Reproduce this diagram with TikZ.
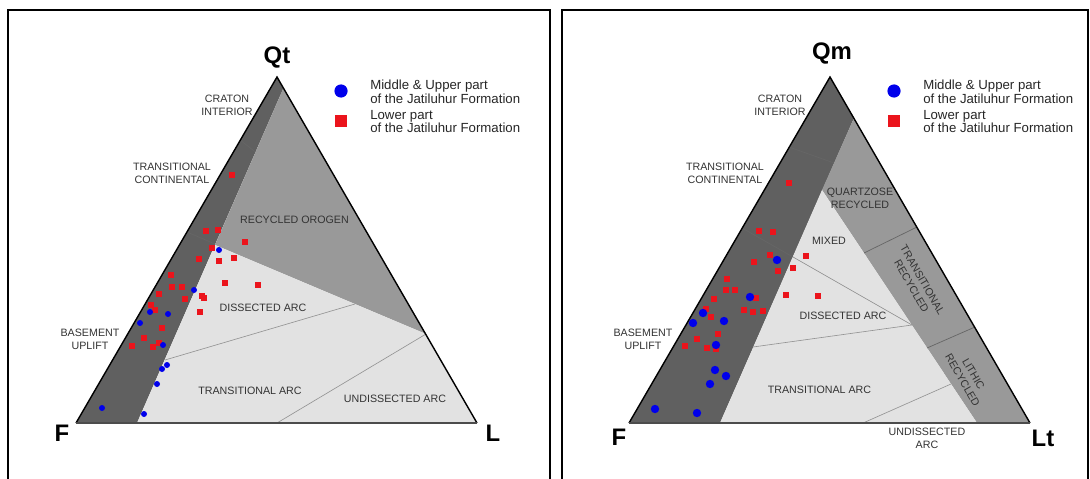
\documentclass[tikz,border=0pt]{standalone}
\usepackage{fontspec}
\setmainfont{Liberation Sans}
\usepackage{tikz}
\usetikzlibrary{positioning, calc}

\definecolor{bandgray}{RGB}{96,96,96}
\definecolor{recgray}{RGB}{153,153,153}
\definecolor{arcgray}{RGB}{226,226,226}
\definecolor{ptred}{RGB}{235,20,28}
\definecolor{ptblue}{RGB}{0,0,235}

\begin{document}
\begin{tikzpicture}[
    x=0.025cm, y=-0.025cm,
    frame/.style={draw=black, line width=0.9pt},
    edge/.style={draw=black, line width=1pt},
    baseline/.style={draw=black!70, line width=1.2pt},
    divide/.style={draw=gray!85, line width=0.45pt},
    bandline/.style={draw=black!60, line width=0.5pt},
    field/.style={font=\fontsize{7.6}{9}\selectfont, text=black!80, align=center, inner sep=0pt},
    corner/.style={font=\fontsize{17}{17}\selectfont\bfseries, inner sep=0pt},
    legtext/.style={font=\fontsize{9.4}{7.9}\selectfont, text=black!85, align=left, anchor=west, inner sep=0pt},
    redsq/.style={rectangle, fill=ptred, minimum size=0.14cm, inner sep=0pt},
    bluedot/.style={circle, fill=ptblue, minimum size=0.15cm, inner sep=0pt},
    bigdot/.style={bluedot, minimum size=0.21cm}
]
    \useasboundingbox (0,0) rectangle (1090,479);

    % Panel frames
    \draw[frame] (8,479) -- (8,10) -- (550,10) -- (550,479);
    \draw[frame] (562,479) -- (562,10) -- (1088,10) -- (1088,479);

    % Left diagram: Qt-F-L
    \coordinate (qt) at (277,77);
    \coordinate (fa) at (76,423);
    \coordinate (la) at (477,423);
    \fill[bandgray] (qt) -- (283.5,88) -- (137,423) -- (fa) -- cycle;
    \fill[recgray] (283.5,88) -- (426,334) -- (215,245) -- cycle;
    \fill[arcgray] (215,245) -- (426,334) -- (la) -- (137,423) -- cycle;
    \draw[bandline] (240,140) -- (255.5,152);
    \draw[bandline] (187,232) -- (215,244);
    \draw[divide] (165,360) -- (355,304);
    \draw[divide] (426,334) -- (277,423);
    \draw[edge] (fa) -- (qt) -- (la);
    \draw[baseline] (fa) -- (la);

    \node[corner] (qtlab) at (277,57.5) {Qt};
    \node[corner] (flab) at (62,433) {F};
    \node[corner] (llab) at (493,433) {L};

    \node[field] (craton) at (227,105) {CRATON\\INTERIOR};
    \node[field] (transcont) at (172,173.5) {TRANSITIONAL\\CONTINENTAL};
    \node[field] (recorogen) at (294.5,220) {RECYCLED OROGEN};
    \node[field] (disarc) at (263,308) {DISSECTED ARC};
    \node[field] (transarc) at (250,391) {TRANSITIONAL ARC};
    \node[field] (undisarc) at (395,399) {UNDISSECTED ARC};
    \node[field] (basement) at (90,339) {BASEMENT\\UPLIFT};

    % Left samples
    \foreach \x/\y in {232/175, 206/231, 218/230, 245/242, 212/248, 199/259, 219/261, 234/258, 225/283, 258/285, 171/275, 172/287, 182/287, 159/294, 185/299, 202/296, 204/298, 151/305, 155/310, 200/312, 162/328, 144/338, 132/346, 153/347, 159/343}
        \node[redsq] at (\x,\y) {};
    \foreach \x/\y in {219/250, 194/290, 150/312, 168/314, 140/323, 163/345, 167/365, 162/369, 157/384, 102/408, 144/414}
        \node[bluedot] at (\x,\y) {};

    % Left legend
    \node[bluedot, minimum size=0.33cm] (keyblue) at (341,91) {};
    \node[legtext] (keybluetext) at (370,91.5) {Middle \& Upper part\\of the Jatiluhur Formation};
    \node[redsq, minimum size=0.3cm] (keyred) at (341,121) {};
    \node[legtext] (keyredtext) at (370,121.5) {Lower part\\of the Jatiluhur Formation};

    % Right diagram: Qm-F-Lt
    \coordinate (qm) at (830,77);
    \coordinate (fb) at (629,423);
    \coordinate (lt) at (1030,423);
    \fill[bandgray] (qm) -- (854,118) -- (720,423) -- (fb) -- cycle;
    \fill[recgray] (854,118) -- (lt) -- (977,423) -- (822,190) -- cycle;
    \fill[arcgray] (822,190) -- (977,423) -- (720,423) -- cycle;
    \draw[bandline] (789,147) -- (834,163);
    \draw[bandline] (742,228) -- (793,257);
    \draw[bandline] (864,253) -- (917,227);
    \draw[bandline] (927,348) -- (975,327);
    \draw[divide] (793,257) -- (912,325);
    \draw[divide] (753,347) -- (912,325);
    \draw[divide] (863,423) -- (951,384);
    \draw[edge] (fb) -- (qm) -- (lt);
    \draw[baseline] (fb) -- (lt);

    \node[corner] (qmlab) at (832,53.5) {Qm};
    \node[corner] (fblab) at (619,437) {F};
    \node[corner] (ltlab) at (1043,438) {Lt};

    \node[field] (craton2) at (780,105) {CRATON\\INTERIOR};
    \node[field] (transcont2) at (725,173.5) {TRANSITIONAL\\CONTINENTAL};
    \node[field] (quartzrec) at (860,198.5) {QUARTZOSE\\RECYCLED};
    \node[field] (mixed) at (829,241) {MIXED};
    \node[field] (disarc2) at (843,316) {DISSECTED ARC};
    \node[field] (transarc2) at (819.5,390) {TRANSITIONAL ARC};
    \node[field, rotate=-60] (transrec) at (917,283) {TRANSITIONAL\\RECYCLED};
    \node[field, rotate=-60] (lithrec) at (968,377) {LITHIC\\RECYCLED};
    \node[field] (basement2) at (643,339.5) {BASEMENT\\UPLIFT};
    \node[field] (undisarc2) at (927,438.5) {UNDISSECTED\\ARC};

    % Right samples
    \foreach \x/\y in {789/183, 759/231, 773/232, 806/256, 770/255, 754/262, 778/271, 793/268, 786/295, 818/296, 727/279, 726/290, 735/290, 714/299, 756/298, 744/310, 753/312, 763/311, 706/309, 711/317, 718/334, 697/339, 685/346, 707/348, 716/349}
        \node[redsq] at (\x,\y) {};
    \foreach \x/\y in {777/260, 750/297, 703/313, 693/323, 724/321, 716/345, 715/370, 726/376, 710/384, 655/409, 697/413}
        \node[bigdot] at (\x,\y) {};

    % Right legend
    \node[bluedot, minimum size=0.33cm] (keyblue2) at (894,91) {};
    \node[legtext] (keybluetext2) at (923,91.5) {Middle \& Upper part\\of the Jatiluhur Formation};
    \node[redsq, minimum size=0.3cm] (keyred2) at (894,121) {};
    \node[legtext] (keyredtext2) at (923,121.5) {Lower part\\of the Jatiluhur Formation};
\end{tikzpicture}
\end{document}
